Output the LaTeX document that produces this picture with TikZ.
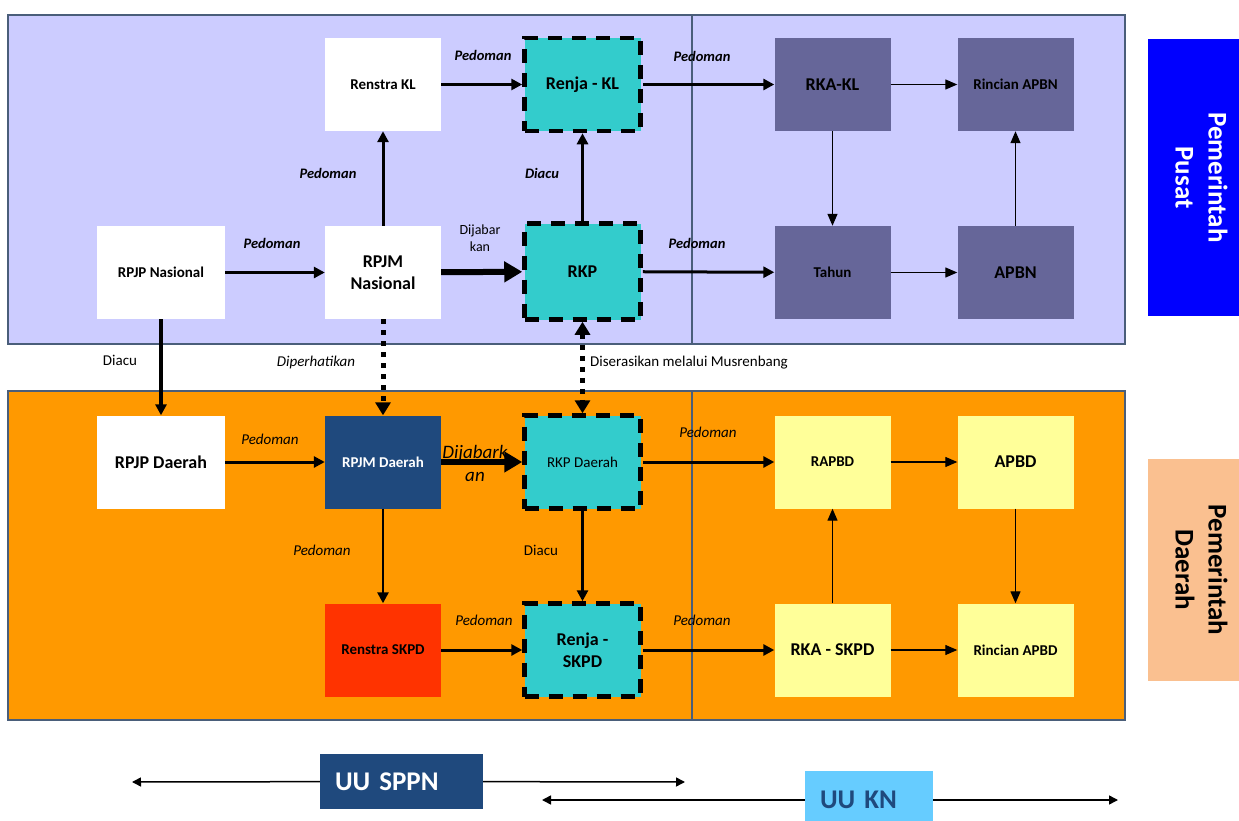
\documentclass[tikz,border=0pt]{standalone}
\usepackage{fontspec}
\setmainfont{Carlito}
\usepackage{tikz}
\usepackage{xcolor}
\usetikzlibrary{arrows.meta}
\definecolor{panelTop}{HTML}{CCCCFF}
\definecolor{panelBot}{HTML}{FF9900}
\definecolor{panelLine}{HTML}{4A5E7A}
\definecolor{tealBox}{HTML}{33CCCC}
\definecolor{slateBox}{HTML}{666699}
\definecolor{yellowBox}{HTML}{FFFF99}
\definecolor{navyBox}{HTML}{1F497D}
\definecolor{redBox}{HTML}{FF3300}
\definecolor{pusatBlue}{HTML}{0000FF}
\definecolor{daerahPeach}{HTML}{FAC090}
\definecolor{skyBox}{HTML}{66CCFF}
\newcommand{\fsz}[2]{\fontsize{#1bp}{#2bp}\selectfont}

\begin{document}
\begin{tikzpicture}[
      x=1bp, y=-1bp,
      box/.style={minimum width=116bp, minimum height=93bp, inner sep=2bp, align=center, font=\fsz{15}{18}\bfseries},
      big/.style={font=\fsz{18}{22}\bfseries},
      plainbox/.style={box, fill=white},
      dashbox/.style={box, big, fill=tealBox, draw=black, line width=4.5bp, dash pattern=on 14bp off 10bp},
      kasbox/.style={box, fill=slateBox},
      yellowbox/.style={box, fill=yellowBox},
      sidebox/.style={rotate=-90, minimum height=107bp, align=center, inner sep=0pt, font=\fsz{27}{33}\bfseries},
      uubox/.style={minimum height=55bp, inner xsep=15bp, inner ysep=0pt, align=left, font=\fsz{27}{30}\bfseries},
      panel/.style={draw=panelLine, line width=1.3bp},
      lbl/.style={align=center, inner sep=0pt, font=\fsz{14.5}{17}\bfseries\itshape},
      lblit/.style={align=center, inner sep=0pt, font=\fsz{15}{18}\itshape},
      lblrm/.style={align=center, inner sep=0pt, font=\fsz{15}{18}},
      arr/.style={-{Triangle[length=11bp,width=11bp]}, line width=3bp},
      heavy/.style={-{Triangle[length=18bp,width=20bp]}, line width=6bp},
      thin/.style={-{Triangle[length=12bp,width=10bp]}, line width=1.3bp},
      dotarr/.style={-{Triangle[length=13bp,width=15bp]}, line width=5bp, dash pattern=on 5bp off 6bp},
      span/.style={-{Triangle[length=9bp,width=9bp]}, line width=1.5bp}
  ]
    \useasboundingbox (0,0) rectangle (1239,821);

    % panels
    \draw[panel, fill=panelTop] (8,15) rectangle (1125,344);
    \draw[panel] (692,15) -- (692,344);
    \draw[panel, fill=panelBot] (8,391) rectangle (1125,720);
    \draw[panel] (692,391) -- (692,720);

    % Pemerintah Pusat
    \node[plainbox] (renstraKL) at (383,84.5) {Renstra KL};
    \node[dashbox] (renjaKL) at (582.5,84.5) {Renja - KL};
    \node[kasbox, big] (rkaKL) at (832.5,84.5) {RKA-KL};
    \node[kasbox] (rincianAPBN) at (1015.5,84.5) {Rincian APBN};
    \node[plainbox, minimum width=128bp] (rpjpNas) at (161,272.5) {RPJP Nasional};
    \node[plainbox, big] (rpjmNas) at (383,272.5) {RPJM\\Nasional};
    \node[dashbox, minimum height=96bp] (rkp) at (582.5,271.5) {RKP};
    \node[kasbox] (tahun) at (832.5,272.5) {Tahun};
    \node[kasbox, big] (apbn) at (1015.5,272.5) {APBN};
    \node[sidebox, fill=pusatBlue, text=white, minimum width=277bp] (pusat) at (1201.5,177.5) {Pemerintah\\Pusat};

    % Pemerintah Daerah
    \node[plainbox, big, minimum width=128bp] (rpjpDae) at (161,462) {RPJP Daerah};
    \node[box, fill=navyBox, text=white] (rpjmDae) at (383,462) {RPJM Daerah};
    \node[dashbox, font=\fsz{15}{18}] (rkpDae) at (582.5,462) {RKP Daerah};
    \node[yellowbox] (rapbd) at (832.5,462) {RAPBD};
    \node[yellowbox, big] (apbd) at (1015.5,462) {APBD};
    \node[box, fill=redBox] (renstraSKPD) at (383,650) {Renstra SKPD};
    \node[dashbox] (renjaSKPD) at (582.5,650) {Renja -\\SKPD};
    \node[yellowbox, big] (rkaSKPD) at (832.5,650) {RKA - SKPD};
    \node[yellowbox] (rincianAPBD) at (1015.5,650) {Rincian APBD};
    \node[sidebox, fill=daerahPeach, minimum width=222bp] (daerah) at (1201.5,570) {Pemerintah\\Daerah};

    % arrows pusat
    \draw[arr] (renstraKL) -- (renjaKL);
    \draw[arr] (renjaKL) -- (rkaKL);
    \draw[thin] (rkaKL) -- (rincianAPBN);
    \draw[thin] (rkaKL) -- (tahun);
    \draw[thin] (tahun) -- (apbn);
    \draw[thin] (apbn) -- (rincianAPBN);
    \draw[arr] (rpjpNas) -- (rpjmNas);
    \draw[arr] (rpjmNas) -- (renstraKL);
    \draw[heavy] (rpjmNas) -- (rkp);
    \draw[arr] (rkp) -- (renjaKL);
    \draw[arr] (rkp) -- (tahun);

    % arrows between levels
    \draw[arr, line width=3.5bp] (rpjpNas) -- (rpjpDae);
    \draw[dotarr] (rpjmNas) -- (rpjmDae);
    \draw[dotarr, {Triangle[length=13bp,width=15bp]}-{Triangle[length=13bp,width=15bp]}] (rkp) -- (rkpDae);

    % arrows daerah
    \draw[arr] (rpjpDae) -- (rpjmDae);
    \draw[heavy] (rpjmDae) -- (rkpDae);
    \draw[arr] (rkpDae) -- (rapbd);
    \draw[thin] (rapbd) -- (apbd);
    \draw[thin] (apbd) -- (rincianAPBD);
    \draw[arr, line width=2.5bp] (rpjmDae) -- (renstraSKPD);
    \draw[arr, line width=3.5bp] (rkpDae) -- (renjaSKPD);
    \draw[arr] (renstraSKPD) -- (renjaSKPD);
    \draw[arr] (renjaSKPD) -- (rkaSKPD);
    \draw[thin] (rkaSKPD) -- (rapbd);
    \draw[thin] (rkaSKPD) -- (rincianAPBD);

    % labels
    \node[lbl] (pedRenja) at (483,55) {Pedoman};
    \node[lbl] (pedRka) at (702,56) {Pedoman};
    \node[lbl] (pedRpjm) at (272,243) {Pedoman};
    \node[lbl] (pedRenstra) at (328,173) {Pedoman};
    \node[lblrm, font=\fsz{14}{17}] (dijabarNas) at (480,238) {Dijabar\\kan};
    \node[lbl] (diacuRenja) at (542,173) {Diacu};
    \node[lbl] (pedTahun) at (697,243) {Pedoman};
    \node[lblrm] (diacuRpjp) at (120,360) {Diacu};
    \node[lblit] (diperhatikan) at (316,362) {Diperhatikan};
    \node[lblrm, anchor=west] (diserasikan) at (590,363) {Diserasikan melalui Musrenbang};
    \node[lblit] (pedRpjmDae) at (270,439) {Pedoman};
    \node[lblit, font=\fsz{19}{23}\itshape] (dijabarDae) at (475,463) {Dijabark\\an};
    \node[lblit] (pedRapbd) at (708,432) {Pedoman};
    \node[lblit] (pedRenstraSKPD) at (322,550) {Pedoman};
    \node[lblrm] (diacuRenjaSKPD) at (541,550) {Diacu};
    \node[lblit] (pedRenjaSKPD) at (484,620) {Pedoman};
    \node[lblit] (pedRkaSKPD) at (702,620) {Pedoman};

    % undang-undang
    \node[uubox, fill=navyBox, text=white, minimum width=163bp, text width=133bp] (uuSPPN) at (401.5,781.5) {UU SPPN};
    \node[uubox, fill=skyBox, text=navyBox, minimum width=128bp, minimum height=58bp, text width=98bp] (uuKN) at (869,800) {UU KN};
    \coordinate (sppnL) at (132,782);
    \coordinate (sppnR) at (685,782);
    \coordinate (knL) at (542,800);
    \coordinate (knR) at (1118,800);
    \draw[span] (uuSPPN) -- (sppnL);
    \draw[span] (uuSPPN) -- (sppnR);
    \draw[span] (uuKN) -- (knL);
    \draw[span] (uuKN) -- (knR);
  \end{tikzpicture}
\end{document}
